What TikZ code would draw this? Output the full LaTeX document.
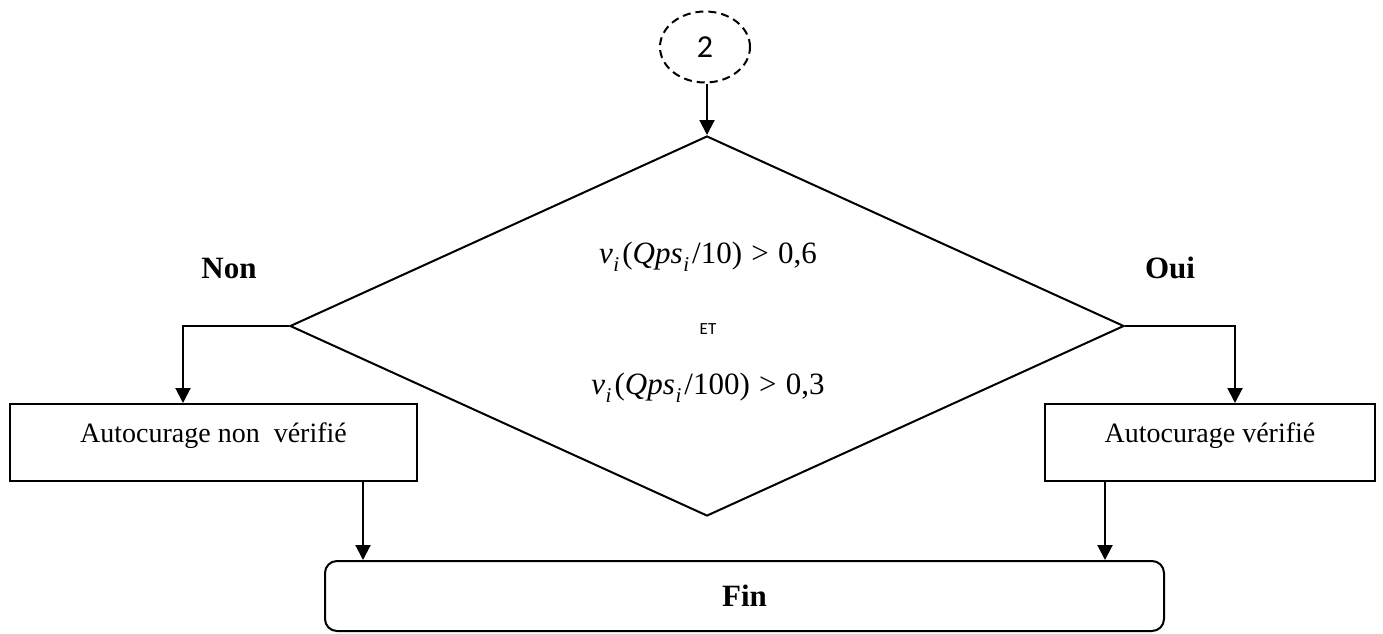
\documentclass[tikz,border=0pt]{standalone}
\usepackage{fontspec}
\setmainfont{Liberation Serif}
\newfontfamily\calib{Carlito}
\newcommand\subi{\hspace{0.02em}\raisebox{-0.25em}{\fontsize{21}{24}\selectfont\itshape i}\hspace{0.1em}}
\newcommand\gtsign{\hspace{0.3em}>\hspace{0.3em}}
\usetikzlibrary{shapes.geometric,arrows.meta}
\begin{document}
\begin{tikzpicture}[x=1pt,y=-1pt,line width=2pt,
  arr/.style={-{Triangle[length=15pt,width=15pt]}},
  boxnode/.style={draw,rectangle,inner sep=0pt,minimum height=77pt},
  txt/.style={font=\fontsize{28}{32}\selectfont,inner sep=0pt},
  lab/.style={font=\fontsize{31}{36}\selectfont\bfseries,inner sep=0pt},
  mth/.style={font=\fontsize{31}{35}\selectfont,inner sep=0pt}]
\useasboundingbox (0,0) rectangle (1383,633);
% start connector
\node[draw,dash pattern=on 8pt off 5pt,ellipse,minimum width=90pt,minimum height=71pt,inner sep=0pt,
      font=\calib\fontsize{32}{36}\selectfont] (c2) at (705,47) {2};
% decision
\node[draw,diamond,minimum width=834pt,minimum height=380pt,inner sep=0pt] (dec) at (707,326) {};
\node[mth] (m1) at (708,257) {\textit{v}\subi(\textit{Qps}\subi/10)\gtsign0,6};
\node[font=\calib\fontsize{17}{20}\selectfont,inner sep=0pt] (et) at (708,329) {ET};
\node[mth] (m2) at (708,388) {\textit{v}\subi(\textit{Qps}\subi/100)\gtsign0,3};
% labels
\node[lab,anchor=base] (non) at (229,278) {Non};
\node[lab,anchor=base] (oui) at (1170,278) {Oui};
% boxes
\node[boxnode,minimum width=407pt] (lb) at (213.5,442.5) {};
\node[txt,anchor=base] (lt) at (213.5,442) {Autocurage non\ \ vérifié};
\node[boxnode,minimum width=330pt] (rb) at (1210,442.5) {};
\node[txt,anchor=base] (rt) at (1210,442) {Autocurage vérifié};
% end
\node[draw,rounded corners=12pt,minimum width=839pt,minimum height=70pt,inner sep=0pt] (fin) at (744.5,596) {};
\node[lab,anchor=base] (ft) at (744.5,606) {Fin};
% connectors
\coordinate (lk) at (183,326);
\coordinate (rk) at (1235,326);
\coordinate (ldx) at (363,0);
\coordinate (rdx) at (1105,0);
\draw[arr] (dec.north |- c2.south) -- (dec.north);
\draw[arr] (dec.west) -- (lk) -- (lk |- lb.north);
\draw[arr] (dec.east) -- (rk) -- (rk |- rb.north);
\draw[arr] (lb.south -| ldx) -- (fin.north -| ldx);
\draw[arr] (rb.south -| rdx) -- (fin.north -| rdx);
\end{tikzpicture}
\end{document}
